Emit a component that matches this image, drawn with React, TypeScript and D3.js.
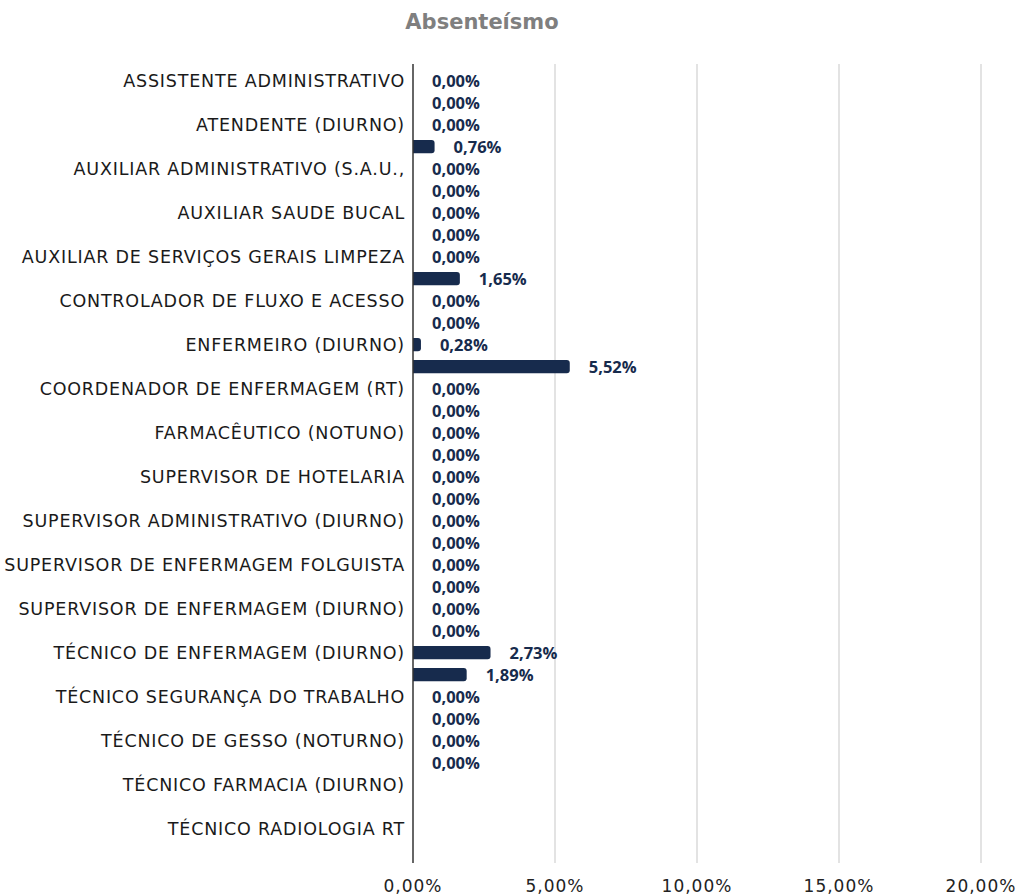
import React from "react";
import * as d3 from "d3";

const title = "Absenteísmo";

// 36 category slots; only every other slot carries a visible axis label
const axisLabels: string[] = [
  "ASSISTENTE ADMINISTRATIVO",
  "ATENDENTE (DIURNO)",
  "AUXILIAR ADMINISTRATIVO (S.A.U.,",
  "AUXILIAR SAUDE BUCAL",
  "AUXILIAR DE SERVIÇOS GERAIS LIMPEZA",
  "CONTROLADOR DE FLUXO E ACESSO",
  "ENFERMEIRO (DIURNO)",
  "COORDENADOR DE ENFERMAGEM (RT)",
  "FARMACÊUTICO (NOTUNO)",
  "SUPERVISOR DE HOTELARIA",
  "SUPERVISOR ADMINISTRATIVO (DIURNO)",
  "SUPERVISOR DE ENFERMAGEM FOLGUISTA",
  "SUPERVISOR DE ENFERMAGEM (DIURNO)",
  "TÉCNICO DE ENFERMAGEM (DIURNO)",
  "TÉCNICO SEGURANÇA DO TRABALHO",
  "TÉCNICO DE GESSO (NOTURNO)",
  "TÉCNICO FARMACIA (DIURNO)",
  "TÉCNICO RADIOLOGIA RT",
];

// values (%) per slot, null = no data
const values: (number | null)[] = [
  0, 0, 0, 0.76, 0, 0, 0, 0, 0, 1.65,
  0, 0, 0.28, 5.52, 0, 0, 0, 0, 0, 0,
  0, 0, 0, 0, 0, 0, 2.73, 1.89, 0, 0,
  0, 0, null, null, null, null,
];

const xTicks = [0, 5, 10, 15, 20];

const fmt = (v: number) => v.toFixed(2).replace(".", ",") + "%";

export default function App() {
  const W = 1017;
  const H = 895;
  const x = d3.scaleLinear().domain([0, 20]).range([413, 981]);
  const slots = values.map((_, i) => i);
  const y = d3
    .scaleBand<number>()
    .domain(slots)
    .range([69.6, 861.6])
    .paddingInner(0.4)
    .paddingOuter(0.2);
  const plotTop = 64;
  const plotBottom = 863;
  const navy = "#172b4d";

  return (
    <svg
      width={W}
      height={H}
      style={{ position: "absolute", left: 0, top: 0, background: "#fff" }}
    >
      <text
        x={482}
        y={29}
        textAnchor="middle"
        fontFamily="DejaVu Sans"
        fontWeight="bold"
        fontSize={21}
        fill="#7f7f7f"
      >
        {title}
      </text>

      {xTicks.slice(1).map((t) => (
        <line
          key={"g" + t}
          x1={x(t)}
          x2={x(t)}
          y1={plotTop}
          y2={plotBottom}
          stroke="#d0d0d0"
          strokeWidth={1.2}
        />
      ))}

      {xTicks.map((t) => (
        <text
          key={"t" + t}
          x={x(t)}
          y={892}
          textAnchor="middle"
          fontFamily="DejaVu Sans"
          fontSize={17}
          letterSpacing={1}
          fill="#222"
        >
          {fmt(t)}
        </text>
      ))}

      {slots.map((i) =>
        i % 2 === 0 && axisLabels[i / 2] ? (
          <text
            key={"c" + i}
            x={405}
            y={(y(i) as number) + y.bandwidth() / 2}
            dy="0.36em"
            textAnchor="end"
            fontFamily="DejaVu Sans"
            fontSize={17.5}
            letterSpacing={0.8}
            fill="#1a1a1a"
          >
            {axisLabels[i / 2]}
          </text>
        ) : null
      )}

      {values.map((v, i) =>
        v === null ? null : (
          <g key={"b" + i}>
            {v > 0 && (
              <path
                d={(() => {
                  const x0 = x(0);
                  const x1 = x(v);
                  const y0 = y(i) as number;
                  const h = y.bandwidth();
                  const r = Math.min(3, (x1 - x0) / 2);
                  return `M${x0},${y0}H${x1 - r}Q${x1},${y0} ${x1},${y0 + r}V${y0 + h - r}Q${x1},${y0 + h} ${x1 - r},${y0 + h}H${x0}Z`;
                })()}
                fill={navy}
              />
            )}
            <text
              x={x(v) + 19}
              y={(y(i) as number) + y.bandwidth() / 2}
              dy="0.36em"
              fontFamily="Open Sans"
              fontWeight="bold"
              fontSize={16.5}
              fill={navy}
            >
              {fmt(v)}
            </text>
          </g>
        )
      )}

      <line
        x1={x(0)}
        x2={x(0)}
        y1={plotTop}
        y2={plotBottom}
        stroke="#333"
        strokeWidth={1.5}
      />
    </svg>
  );
}
